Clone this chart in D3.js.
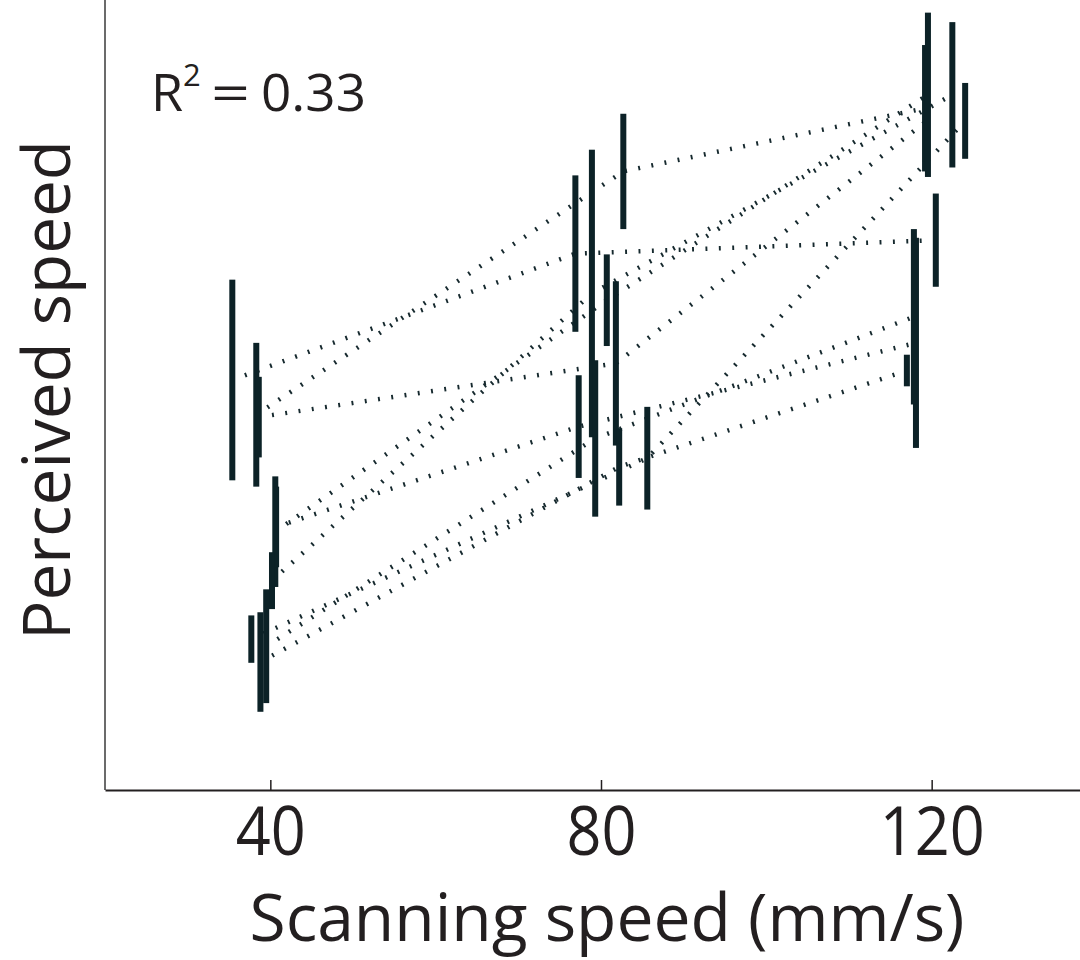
<!DOCTYPE html>
<html>
<head>
<meta charset="utf-8">
<script src="https://cdn.jsdelivr.net/npm/d3@7"></script>
<style>
  html, body { margin: 0; padding: 0; background: #fff; }
  svg { display: block; }
  text { font-family: "Open Sans", "Noto Sans", sans-serif; fill: #231f20; }
</style>
</head>
<body>
<svg id="chart" width="1080" height="960"></svg>
<script>
// Nominal scanning speeds (mm/s) shown on the x axis
const speedTicks = [40, 80, 120];

// Per-subject plotting positions (mm/s), slightly jittered around each nominal speed
const xSlow = [35.4, 38.3, 38.6, 40.6, 40.7, 40.2, 39.5, 38.8, 37.7];
const xMid  = [76.9, 82.7, 81.8, 80.7, 77.3, 78.9, 79.3, 82.2, 85.6];
const xFast = [120.5, 119.2, 119.3, 119.55, 118.1, 122.5, 117.85, 117.0, 124.05];

// Mean perceived speed (arbitrary units) per subject at each scanning speed
const meanSlow = [51.9, 47.5, 47.2, 32.7, 33.3, 26.5, 18.2, 16.2, 19.1];
const meanMid  = [67.9, 78.3, 54.0, 62.0, 46.0, 62.85, 44.5, 40.9, 42.0];
const meanFast = [69.6, 86.3, 84.6, 88.0, 56.6, 88.0, 59.9, 53.1, 84.7];

// Error half-widths (same units)
const errSlow = [12.7, 9.1, 5.1, 7.0, 5.1, 3.6, 7.2, 6.3, 3.0];
const errMid  = [9.9, 7.3, 10.4, 5.8, 6.5, 18.2, 9.9, 4.9, 6.5];
const errFast = [5.9, 8.0, 5.1, 10.4, 13.3, 9.2, 11.1, 2.0, 4.8];

const fitLabel = "0.33";

const svg = d3.select("#chart");
const ink = "#0c2227";

const x = d3.scaleLinear().domain([20, 140]).range([105, 1097]);
const y = d3.scaleLinear().domain([0, 100]).range([790, 0]);

// Assemble one record per subject
const subjects = d3.range(meanSlow.length).map(i => ({
  pts: [
    { s: xSlow[i], m: meanSlow[i], e: errSlow[i] },
    { s: xMid[i],  m: meanMid[i],  e: errMid[i] },
    { s: xFast[i], m: meanFast[i], e: errFast[i] }
  ]
}));

// Dotted connectors between each subject's means
const line = d3.line().x(d => x(d.s)).y(d => y(d.m));
svg.append("g")
  .selectAll("path")
  .data(subjects)
  .join("path")
  .attr("d", d => line(d.pts))
  .attr("fill", "none")
  .attr("stroke", "#16292e")
  .attr("stroke-width", 4.5)
  .attr("stroke-dasharray", "1.9 11.5");

// Error bars
const bars = subjects.flatMap(d => d.pts);
svg.append("g")
  .selectAll("rect")
  .data(bars)
  .join("rect")
  .attr("x", d => x(d.s) - 3)
  .attr("width", 6)
  .attr("y", d => y(d.m + d.e))
  .attr("height", d => y(d.m - d.e) - y(d.m + d.e))
  .attr("fill", ink);

// Axes
svg.append("line")
  .attr("x1", 105).attr("x2", 105)
  .attr("y1", 0).attr("y2", y(0))
  .attr("stroke", "#3a3a3a").attr("stroke-width", 1.5);

const xAxis = d3.axisBottom(x)
  .tickValues(speedTicks)
  .tickSizeInner(-10)
  .tickSizeOuter(0)
  .tickPadding(17)
  .tickFormat(d3.format("d"));

const gx = svg.append("g")
  .attr("transform", `translate(0,${y(0)})`)
  .call(xAxis);
gx.select(".domain").attr("stroke", "#231f20").attr("stroke-width", 2);
gx.selectAll(".tick line").attr("stroke", "#231f20").attr("stroke-width", 1.5);
gx.selectAll(".tick text")
  .attr("font-size", 67)
  .attr("font-family", "'Open Sans', sans-serif")
  .attr("fill", "#231f20")
  .attr("textLength", d => String(d).length * 35)
  .attr("lengthAdjust", "spacingAndGlyphs");

// Axis titles
svg.append("text")
  .attr("x", 607).attr("y", 941)
  .attr("text-anchor", "middle")
  .attr("font-size", 65)
  .attr("textLength", 715)
  .attr("lengthAdjust", "spacingAndGlyphs")
  .text("Scanning speed (mm/s)");

svg.append("text")
  .attr("transform", "translate(70,390) rotate(-90)")
  .attr("text-anchor", "middle")
  .attr("font-size", 66)
  .attr("textLength", 500)
  .attr("lengthAdjust", "spacingAndGlyphs")
  .text("Perceived speed");

// Goodness-of-fit annotation
const r2 = svg.append("text")
  .attr("y", 111)
  .attr("font-size", 52);
r2.append("tspan").attr("x", 151).text("R");
r2.append("tspan").attr("x", 183).attr("font-size", 31).attr("dy", -25).text("2");
r2.append("tspan").attr("x", 211).attr("dy", 25)
  .attr("textLength", 39).attr("lengthAdjust", "spacingAndGlyphs").text("=");
r2.append("tspan").attr("x", 261)
  .attr("textLength", 105).attr("lengthAdjust", "spacingAndGlyphs").text(fitLabel);
</script>
</body>
</html>
